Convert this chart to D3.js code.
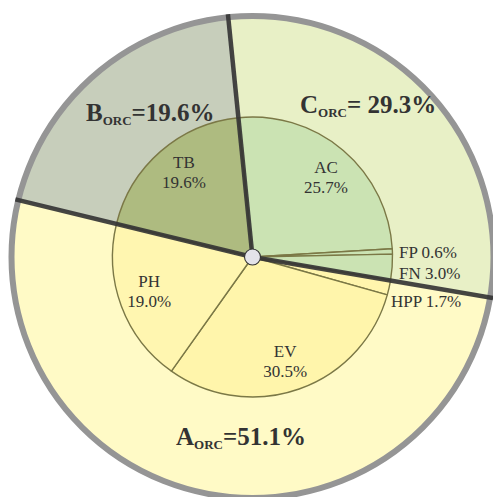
<!DOCTYPE html>
<html>
<head>
<meta charset="utf-8">
<script src="https://cdn.jsdelivr.net/npm/d3@7/dist/d3.min.js"></script>
<style>
  html, body { margin: 0; padding: 0; background: #ffffff; }
  svg { display: block; }
  text { font-family: "Liberation Serif", "DejaVu Serif", serif; fill: #333333; }
</style>
</head>
<body>
<svg id="chart" width="493" height="497"></svg>
<script>
// Outer ring: ORC groups (clockwise, starting just left of twelve o'clock)
const outerGroups = ["C", "A", "B"];
const outerValues = [29.3, 51.1, 19.6];
const outerValueLabels = ["= 29.3%", "=51.1%", "=19.6%"];

// Inner pie: sub-categories, in the same clockwise order
const innerCategories = ["AC", "FP", "FN", "HPP", "EV", "PH", "TB"];
const innerValues = [25.7, 0.6, 3.0, 1.7, 30.5, 19.0, 19.6];

// Styling and layout
const W = 493, H = 497;
const cx = 252.5, cy = 257;
const rInner = 140, rOuter = 241;
const startDeg = -5.78;
const a0 = startDeg * Math.PI / 180;

const outerColor = d3.scaleOrdinal().domain(outerGroups)
  .range(["#e8f0c6", "#fffac6", "#c7cebb"]);
const innerColor = d3.scaleOrdinal().domain(innerCategories)
  .range(["#cbe3b3", "#cbe3b3", "#cbe3b3", "#fff5ad", "#fff5ab", "#fff6b0", "#aebb80"]);

const svg = d3.select("#chart");
const g = svg.append("g").attr("transform", `translate(${cx},${cy})`);

const pie = d3.pie().sort(null).value(d => d.v)
  .startAngle(a0).endAngle(a0 + 2 * Math.PI);

const outerData = pie(outerGroups.map((k, i) => ({ k, v: outerValues[i], lab: outerValueLabels[i] })));
const innerData = pie(innerCategories.map((k, i) => ({ k, v: innerValues[i] })));

const outerArc = d3.arc().innerRadius(0).outerRadius(rOuter);
const innerArc = d3.arc().innerRadius(0).outerRadius(rInner);

// Outer sectors
g.selectAll("path.outer").data(outerData).join("path")
  .attr("class", "outer")
  .attr("d", outerArc)
  .attr("fill", d => outerColor(d.data.k));

// Inner sectors with thin olive outlines
g.selectAll("path.inner").data(innerData).join("path")
  .attr("class", "inner")
  .attr("d", innerArc)
  .attr("fill", d => innerColor(d.data.k))
  .attr("stroke", "#7b7846")
  .attr("stroke-width", 1.4)
  .attr("stroke-linejoin", "round");

// Gray rim
g.append("circle")
  .attr("r", rOuter)
  .attr("fill", "none")
  .attr("stroke", "#959595")
  .attr("stroke-width", 6);

// Heavy dividers between outer groups
const rLine = rOuter + 3;
g.selectAll("line.divider").data(outerData).join("line")
  .attr("class", "divider")
  .attr("x1", 0).attr("y1", 0)
  .attr("x2", d => rLine * Math.sin(d.startAngle))
  .attr("y2", d => -rLine * Math.cos(d.startAngle))
  .attr("stroke", "#353535")
  .attr("stroke-opacity", 0.92)
  .attr("stroke-width", 4.5);

// Center hub
g.append("circle")
  .attr("r", 8)
  .attr("fill", "#e3e3e9")
  .attr("stroke", "#333333")
  .attr("stroke-width", 1.1);

// Inner labels: the four large slices get two-line labels at their mid-angle
const labelR = 109, labelNudge = 2 * Math.PI / 180;
const bigSlices = innerData.filter(d => ["AC", "EV", "PH", "TB"].includes(d.data.k));
const bigLab = g.selectAll("g.biglab").data(bigSlices).join("g")
  .attr("class", "biglab")
  .attr("transform", d => {
    const a = (d.startAngle + d.endAngle) / 2 + labelNudge;
    return `translate(${labelR * Math.sin(a)},${-labelR * Math.cos(a)})`;
  });
bigLab.append("text")
  .attr("text-anchor", "middle").attr("y", -4)
  .attr("font-size", 17)
  .text(d => d.data.k);
bigLab.append("text")
  .attr("text-anchor", "middle").attr("y", 16)
  .attr("font-size", 17)
  .text(d => d.data.v.toFixed(1) + "%");

// Small slices are labelled to the right, stacked
const smallPos = { FP: [146.5, 1], FN: [146.5, 22], HPP: [138.5, 50] };
g.selectAll("text.smalllab")
  .data(innerData.filter(d => smallPos[d.data.k]))
  .join("text")
  .attr("class", "smalllab")
  .attr("x", d => smallPos[d.data.k][0])
  .attr("y", d => smallPos[d.data.k][1])
  .attr("font-size", 17)
  .text(d => `${d.data.k} ${d.data.v.toFixed(1)}%`);

// Outer group labels: X_ORC=value%
const outerPos = { B: [-166.5, -136], C: [47.5, -144], A: [-76.5, 188] };
const oLab = g.selectAll("text.outerlab").data(outerData).join("text")
  .attr("class", "outerlab")
  .attr("x", d => outerPos[d.data.k][0])
  .attr("y", d => outerPos[d.data.k][1])
  .attr("font-size", 25)
  .attr("font-weight", "bold");
oLab.append("tspan").text(d => d.data.k);
oLab.append("tspan").attr("font-size", 13).attr("dy", 4).text("ORC");
oLab.append("tspan").attr("dy", -4).text(d => d.data.lab);
</script>
</body>
</html>
